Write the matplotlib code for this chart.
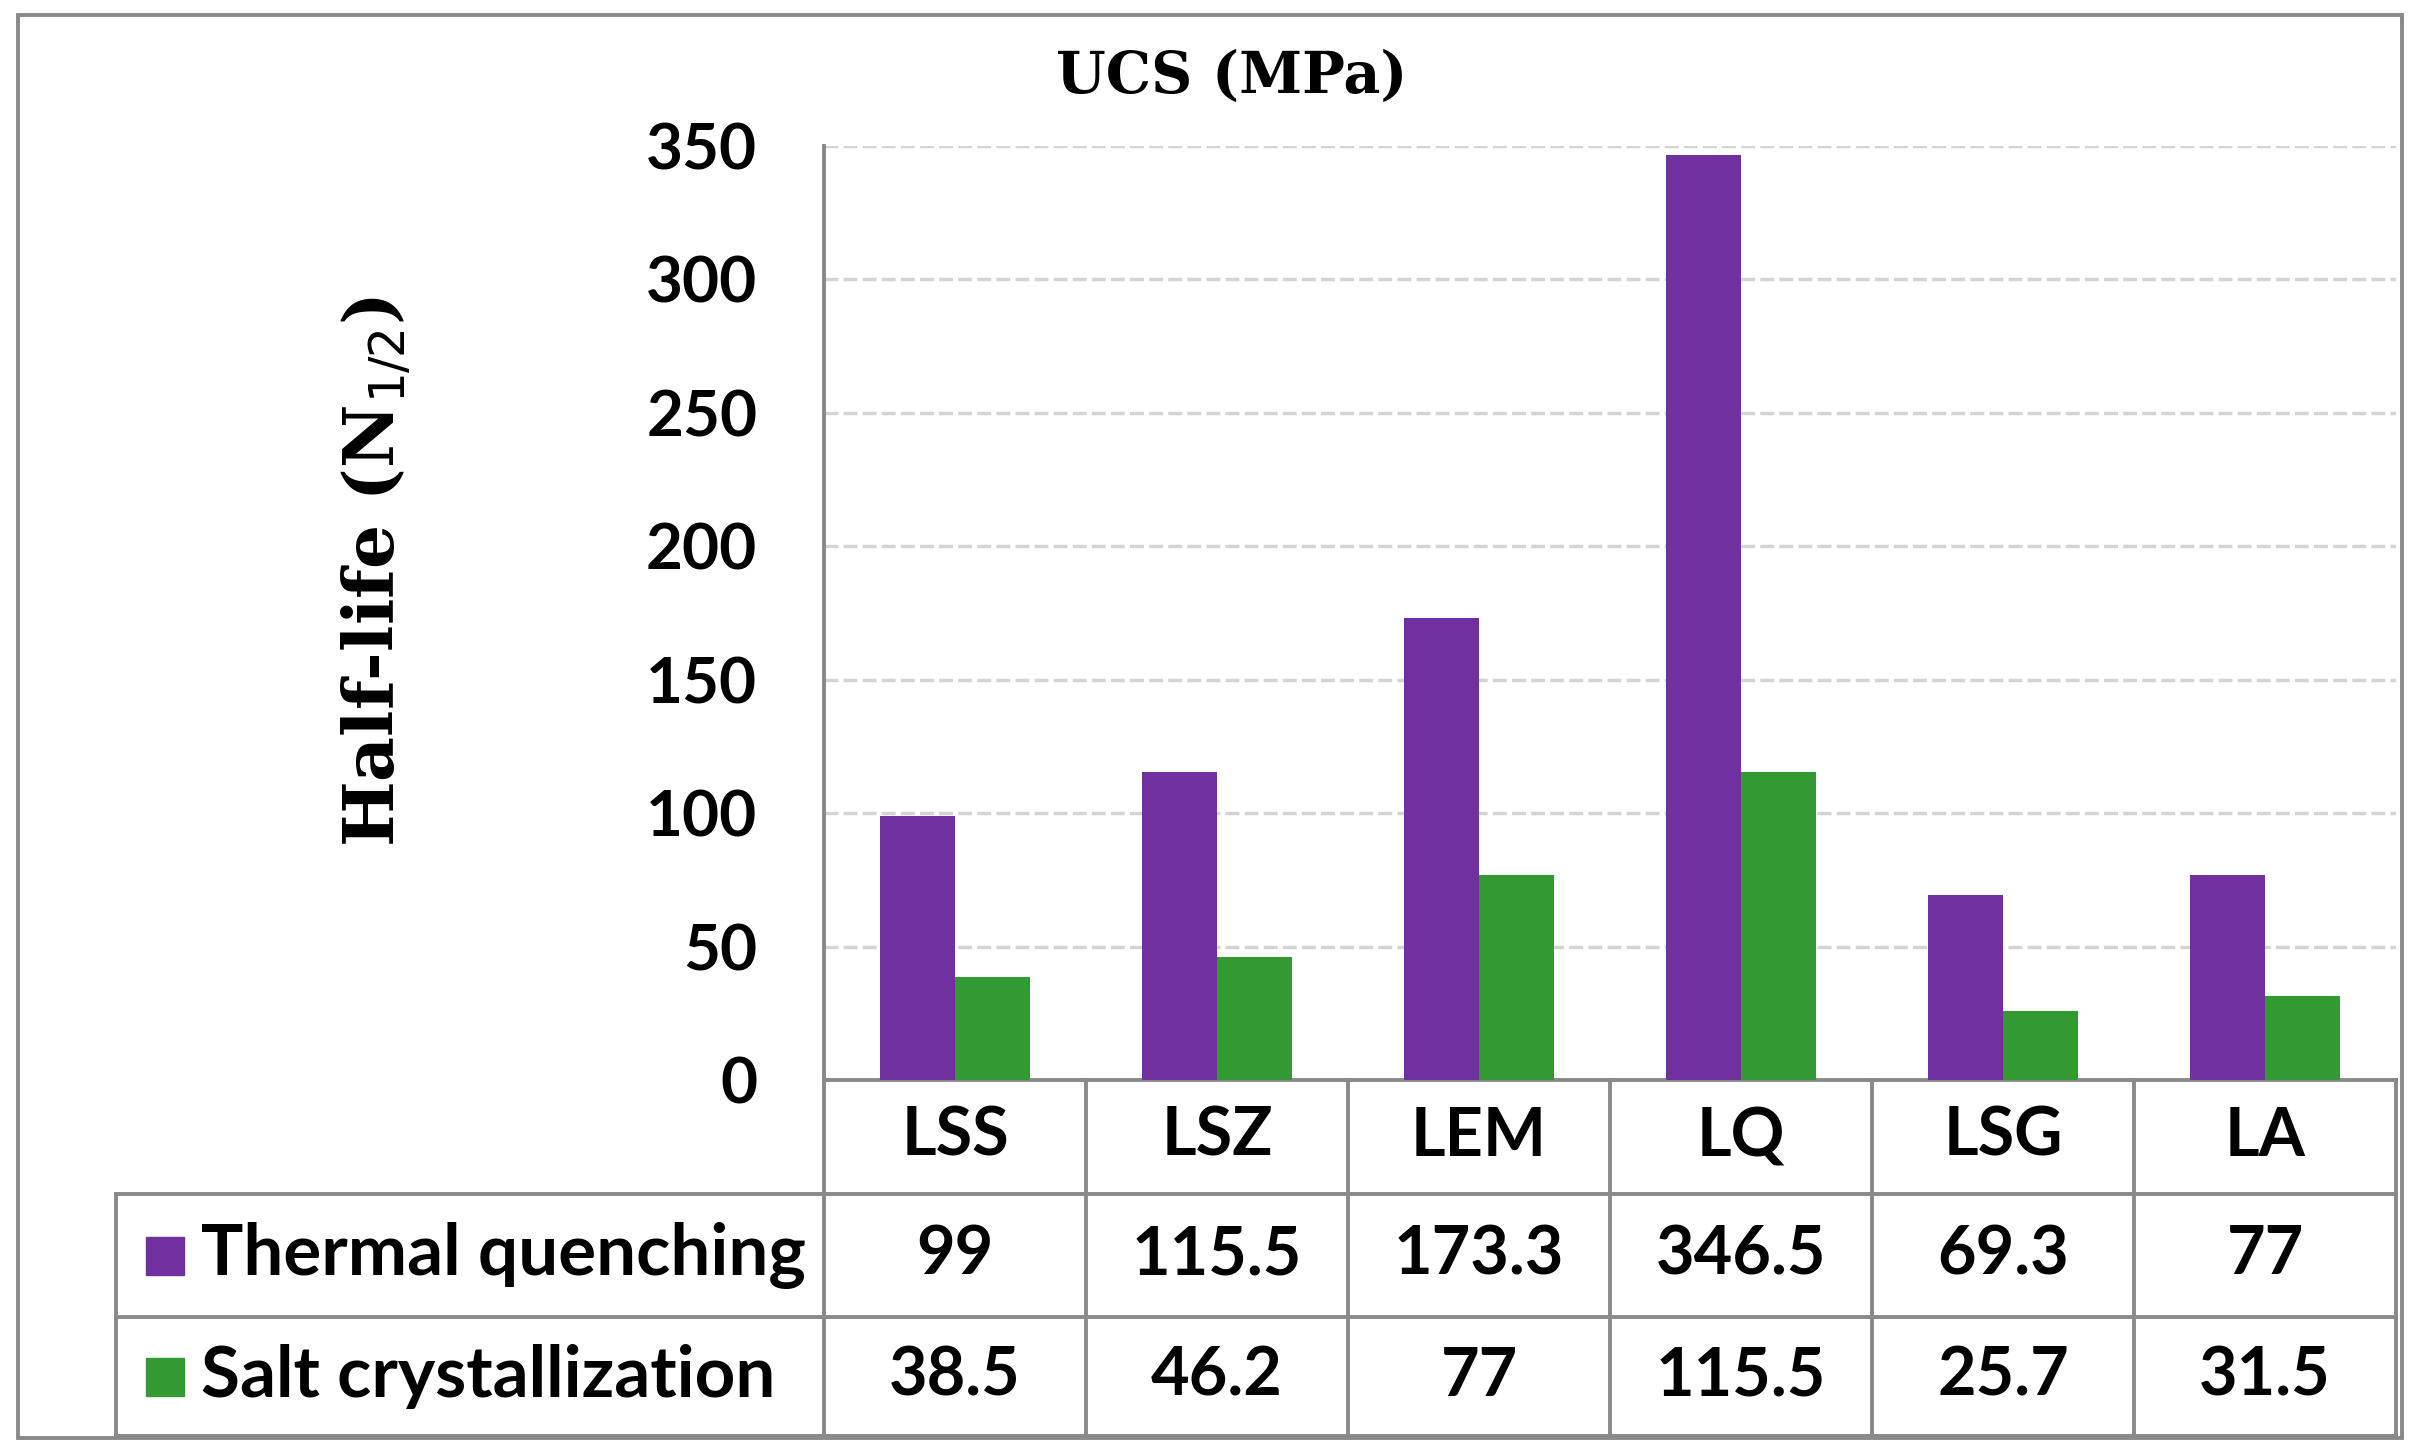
import numpy as np
import matplotlib
matplotlib.use('Agg')
import matplotlib.pyplot as plt
from matplotlib.transforms import blended_transform_factory
from matplotlib.patches import Rectangle

# data
categories = ['LSS', 'LSZ', 'LEM', 'LQ', 'LSG', 'LA']
thermal = [99, 115.5, 173.3, 346.5, 69.3, 77]
salt = [38.5, 46.2, 77, 115.5, 25.7, 31.5]
series_names = ['Thermal quenching', 'Salt crystallization']
yticks = [0, 50, 100, 150, 200, 250, 300, 350]

purple = '#7030A0'
green = '#339933'
gray = '#898989'
sans = 'Lato'
serif = 'DejaVu Serif'

W, H = 2414, 1454


def fx(px):
	return px / W


def fy(py):
	return 1 - py / H


fig = plt.figure(figsize=(W / 100, H / 100), dpi=100)

# plot area in pixels: left 824, right 2396, top 146, bottom 1080
L, R, T, B = 824, 2396, 146, 1080
ax = fig.add_axes([fx(L), fy(B), fx(R) - fx(L), fy(T) - fy(B)])


def ay(py):
	return -(py - B) / (B - T)


def axf(px):
	return (px - L) / (R - L)


x = np.arange(len(categories))
w = 0.288
ax.bar(x - w / 2, thermal, w, color=purple, zorder=3)
ax.bar(x + w / 2, salt, w, color=green, zorder=3)
ax.set_xlim(-0.5, len(categories) - 0.5)
ax.set_ylim(0, 350)
ax.set_yticks(yticks)
ax.set_xticks([])
ax.tick_params(axis='y', length=0, pad=48)
for lab in ax.get_yticklabels():
	lab.set_fontfamily(sans)
	lab.set_fontweight('bold')
	lab.set_fontsize(46)
ax.yaxis.grid(True, color='#D4D4D4', linestyle=(0, (4, 1.5)), linewidth=2.5, zorder=0)
ax.set_axisbelow(True)
for s in ['top', 'right']:
	ax.spines[s].set_visible(False)
for s in ['left', 'bottom']:
	ax.spines[s].set_color(gray)
	ax.spines[s].set_linewidth(2.8)

# data table under the chart
blend = blended_transform_factory(ax.transData, ax.transAxes)
rows = [ay(1194), ay(1317), ay(1436)]
xleft = axf(116)
lk = dict(color=gray, lw=2.8, clip_on=False, solid_capstyle='projecting')
for yy in rows:
	ax.plot([xleft, 1], [yy, yy], transform=ax.transAxes, **lk)
ax.plot([xleft, xleft], [rows[0], rows[2]], transform=ax.transAxes, **lk)
for i in range(len(categories) + 1):
	ax.plot([i - 0.5, i - 0.5], [0, rows[2]], transform=blend, **lk)

centers = [(0 + rows[0]) / 2, (rows[0] + rows[1]) / 2, (rows[1] + rows[2]) / 2]
tk = dict(fontfamily=sans, fontweight='bold', fontsize=48, ha='center', va='center')
for i, c in enumerate(categories):
	ax.text(i, centers[0], c, transform=blend, **tk)
	ax.text(i, centers[1], f'{thermal[i]:g}', transform=blend, **tk)
	ax.text(i, centers[2], f'{salt[i]:g}', transform=blend, **tk)

for name, col, yc in zip(series_names, [purple, green], centers[1:]):
	ax.plot([axf(165)], [yc], marker='s', markersize=27, color=col,
			transform=ax.transAxes, clip_on=False)
	ax.text(axf(201), yc, name, transform=ax.transAxes, fontfamily=sans,
			fontweight='bold', fontsize=51, ha='left', va='center')

# titles
fig.text(fx(1232), fy(77), 'UCS (MPa)', fontfamily=serif, fontweight='bold',
		 fontsize=41, ha='center', va='center')
fig.text(fx(377), fy(572), r'Half-life (N$_{1/2}$)', fontfamily=serif, fontweight='bold',
		 fontsize=50, rotation=90, ha='center', va='center')

# chart border
fig.patches.append(Rectangle((fx(18), fy(1438)), fx(2402) - fx(18), fy(15) - fy(1438),
							 transform=fig.transFigure, fill=False, edgecolor=gray, lw=2.8))

fig.savefig('out.png', dpi=100)
